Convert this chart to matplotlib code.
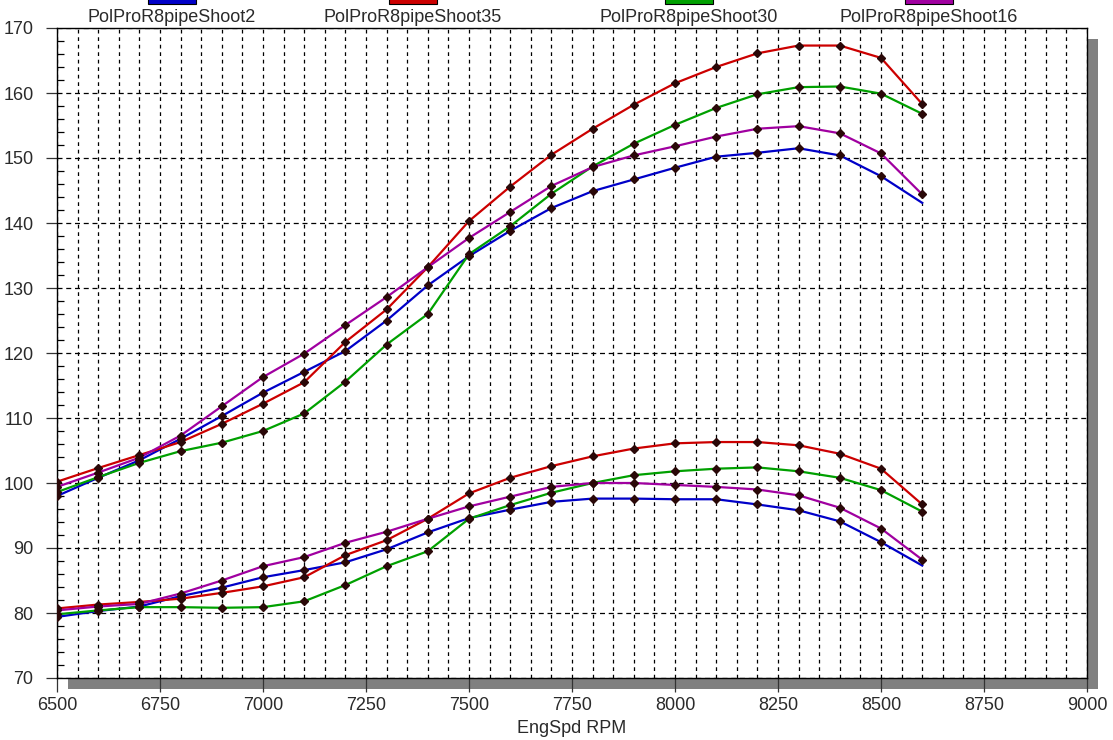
import numpy as np
import matplotlib
matplotlib.use("Agg")
import matplotlib.pyplot as plt
from matplotlib.patches import Rectangle

plt.rcParams['font.family'] = ['Liberation Sans', 'DejaVu Sans']

rpm = [6500, 6600, 6700, 6800, 6900, 7000, 7100, 7200, 7300, 7400, 7500,
       7600, 7700, 7800, 7900, 8000, 8100, 8200, 8300, 8400, 8500, 8600]

names = ['PolProR8pipeShoot2', 'PolProR8pipeShoot35',
         'PolProR8pipeShoot30', 'PolProR8pipeShoot16']
colors = ['#0000c8', '#cc0000', '#00a000', '#a000a0']

# upper curves (power)
hp_shoot2 = [98.0, 100.8, 103.5, 106.8, 110.3, 113.9, 117.1, 120.3, 125.0, 130.4, 134.9,
             138.8, 142.3, 144.9, 146.7, 148.5, 150.2, 150.8, 151.5, 150.4, 147.2, 143.1]
hp_shoot35 = [100.2, 102.3, 104.3, 106.3, 109.1, 112.2, 115.5, 121.7, 126.7, 133.2, 140.3,
              145.6, 150.5, 154.5, 158.2, 161.5, 164.0, 166.1, 167.3, 167.3, 165.4, 158.3]
hp_shoot30 = [98.6, 100.9, 103.1, 104.9, 106.2, 108.0, 110.7, 115.6, 121.3, 126.0, 135.2,
              139.5, 144.5, 148.7, 152.2, 155.1, 157.7, 159.8, 160.9, 161.0, 159.9, 156.8]
hp_shoot16 = [99.4, 101.6, 103.9, 107.3, 111.8, 116.3, 119.9, 124.3, 128.6, 133.2, 137.7,
              141.7, 145.7, 148.6, 150.4, 151.8, 153.3, 154.5, 154.9, 153.8, 150.7, 144.4]

# lower curves (torque)
tq_shoot2 = [79.4, 80.3, 81.0, 82.6, 83.9, 85.5, 86.6, 87.8, 89.8, 92.4, 94.6,
             95.9, 97.1, 97.6, 97.6, 97.5, 97.5, 96.7, 95.8, 94.1, 90.9, 87.3]
tq_shoot35 = [80.7, 81.3, 81.7, 82.2, 83.1, 84.1, 85.5, 88.9, 91.2, 94.5, 98.4,
              100.8, 102.6, 104.1, 105.3, 106.1, 106.3, 106.3, 105.8, 104.5, 102.2, 96.7]
tq_shoot30 = [79.8, 80.4, 80.9, 80.9, 80.8, 80.9, 81.8, 84.3, 87.2, 89.5, 94.5,
              96.6, 98.5, 100.0, 101.2, 101.8, 102.2, 102.4, 101.8, 100.8, 98.9, 95.6]
tq_shoot16 = [80.4, 81.0, 81.4, 83.0, 85.0, 87.2, 88.6, 90.8, 92.5, 94.5, 96.4,
              97.9, 99.4, 100.0, 100.0, 99.7, 99.4, 99.0, 98.1, 96.2, 93.0, 88.2]

upper = [hp_shoot2, hp_shoot35, hp_shoot30, hp_shoot16]
lower = [tq_shoot2, tq_shoot35, tq_shoot30, tq_shoot16]

W, H = 1113, 740
fig = plt.figure(figsize=(W / 100, H / 100), dpi=100)
fig.patch.set_facecolor('white')

# plot area in pixels (image coords)
x0, x1, y0, y1 = 57, 1087, 28, 678
ax = fig.add_axes([x0 / W, (H - y1) / H, (x1 - x0) / W, (y1 - y0) / H])

# drop shadow
fig.add_artist(Rectangle(((x0 + 11) / W, (H - y1 - 11) / H), (x1 - x0) / W, (y1 - y0) / H,
                         transform=fig.transFigure, facecolor='#808080',
                         edgecolor='none', zorder=-1))

for i in range(4):
    last = len(rpm) - 1 if i == 0 else len(rpm)
    for series in (upper[i], lower[i]):
        ax.plot(rpm, series, color=colors[i], lw=1.6, zorder=3)
        ax.plot(rpm[:last], series[:last], ls='none', marker='D', ms=3.6,
                color='#2a0808', zorder=4)

ax.set_xlim(6500, 9000)
ax.set_ylim(70, 170)
ax.set_xticks(np.arange(6500, 9001, 250))
ax.set_xticks(np.arange(6500, 9001, 50), minor=True)
ax.set_yticks(np.arange(70, 171, 10))
ax.set_yticks(np.arange(70, 171, 2), minor=True)

ax.grid(which='both', axis='x', color='black', ls=(0, (3, 3)), lw=0.9)
ax.grid(which='major', axis='y', color='black', ls=(0, (4, 3)), lw=0.9)
ax.set_axisbelow(True)

ax.tick_params(axis='x', which='major', length=10, width=0.9, pad=4, labelsize=13, color='#333333')
ax.tick_params(axis='x', which='minor', length=0)
ax.tick_params(axis='y', which='major', length=8, width=0.9, pad=9, labelsize=13, color='#333333')
ax.tick_params(axis='y', which='minor', direction='in', length=5, width=0.9)
for t in ax.get_xticklabels() + ax.get_yticklabels():
    t.set_color('#2a2a2a')

for s in ax.spines.values():
    s.set_color('black')
    s.set_linewidth(1.0)

ax.set_xlabel('EngSpd RPM', fontsize=13, color='#2a2a2a', labelpad=4)

# legend across the top
centers = [172, 413, 689, 929]
for c, name, col in zip(centers, names, colors):
    fig.add_artist(Rectangle(((c - 24) / W, (H - 4) / H), 48 / W, 10 / H,
                             transform=fig.transFigure, facecolor=col,
                             edgecolor='black', lw=0.8))
    fig.text(c / W, (H - 17) / H, name, ha='center', va='center',
             fontsize=13, color='#2a2a2a')

fig.savefig('out.png', dpi=100)
